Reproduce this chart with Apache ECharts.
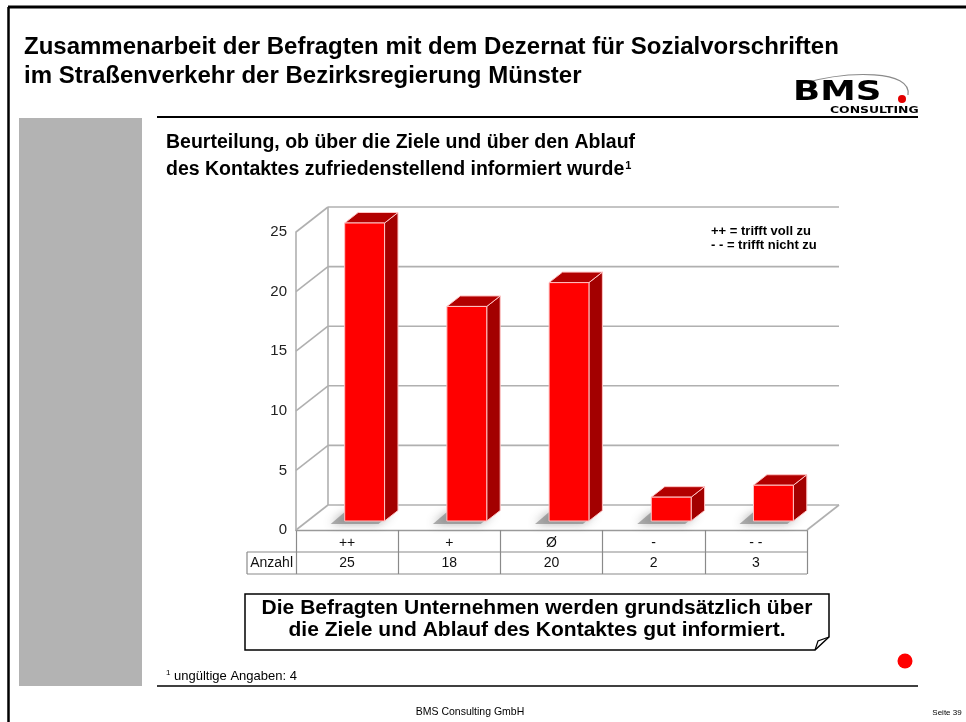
<!DOCTYPE html>
<html>
<head>
<meta charset="utf-8">
<script src="https://cdn.jsdelivr.net/npm/echarts@6/dist/echarts.min.js"></script>
<style>
  html, body { margin: 0; padding: 0; background: #fff; }
  #chart { width: 966px; height: 722px; }
</style>
</head>
<body>
<div id="chart"></div>
<script>
// Survey answers: scale labels and number of answers per scale step
const categories = ['++', '+', 'Ø', '-', '- -'];
const counts = [25, 18, 20, 2, 3];
const rowLabel = 'Anzahl';
const yMax = 25;
const yStep = 5;

const FONT = "'Liberation Sans', Arial, sans-serif";
// oblique depth of the pseudo-3D box (x, y in pixels)
const DEPTH = [32, -25];
const BAR_FRONT = 0.36;   // depth fraction of the bar front faces
const BAR_BACK = 0.78;    // depth fraction of the bar back faces

const chart = echarts.init(document.getElementById('chart'), null, { renderer: 'canvas' });

function bandInfo(api) {
  const band = api.size([1, 0])[0];
  const first = api.coord([0, 0]);
  const last = api.coord([categories.length - 1, 0]);
  return { band: band, left: first[0] - band / 2, right: last[0] + band / 2 };
}

// back wall, left wall and floor of the box
function renderWalls(params, api) {
  const b = bandInfo(api);
  const children = [];
  const stroke = { stroke: '#b0b0b0', lineWidth: 1.6 };
  const y0 = api.coord([0, 0])[1];
  const yTop = api.coord([0, yMax])[1];
  for (let t = 0; t <= yMax; t += yStep) {
    const y = api.coord([0, t])[1];
    children.push({ type: 'line', shape: { x1: b.left, y1: y, x2: b.left + DEPTH[0], y2: y + DEPTH[1] }, style: stroke });
    children.push({ type: 'line', shape: { x1: b.left + DEPTH[0], y1: y + DEPTH[1], x2: b.right + DEPTH[0], y2: y + DEPTH[1] }, style: stroke });
  }
  children.push({ type: 'line', shape: { x1: b.left + DEPTH[0], y1: y0 + DEPTH[1], x2: b.left + DEPTH[0], y2: yTop + DEPTH[1] }, style: stroke });
  children.push({ type: 'line', shape: { x1: b.right, y1: y0, x2: b.right + DEPTH[0], y2: y0 + DEPTH[1] }, style: stroke });
  return { type: 'group', children: children };
}

// one pseudo-3D bar per category
function renderBar(params, api) {
  const i = api.value(0);
  const v = api.value(1);
  const band = api.size([1, 0])[0];
  const w = band * 0.39;
  const c = api.coord([i, 0]);
  const t = api.coord([i, v]);
  const fx = DEPTH[0] * BAR_FRONT, fy = DEPTH[1] * BAR_FRONT;
  const bx = DEPTH[0] * BAR_BACK, by = DEPTH[1] * BAR_BACK;
  const xl = c[0] - w / 2 + fx + 6;
  const xr = xl + w;
  const yb = c[1] + fy;
  const yt = t[1] + fy;
  const dx = bx - fx, dy = by - fy;
  const edge = { stroke: '#ffc4c4', lineWidth: 1 };
  return {
    type: 'group',
    children: [
      { type: 'polygon', shape: { points: [[xl - 14, yb + 3], [xr - 6, yb + 3], [xr + dx - 6, yb + dy + 2], [xl + dx - 14, yb + dy + 2]] },
        style: { fill: 'rgba(115,115,115,0.55)', shadowBlur: 10, shadowColor: 'rgba(90,90,90,0.85)' } },
      { type: 'polygon', shape: { points: [[xr, yb], [xr + dx, yb + dy], [xr + dx, yt + dy], [xr, yt]] },
        style: Object.assign({ fill: '#a30000' }, edge) },
      { type: 'polygon', shape: { points: [[xl, yt], [xr, yt], [xr + dx, yt + dy], [xl + dx, yt + dy]] },
        style: Object.assign({ fill: '#b20000' }, edge) },
      { type: 'rect', shape: { x: xl, y: yt, width: w, height: yb - yt },
        style: Object.assign({ fill: '#ff0000' }, edge) }
    ]
  };
}

// data table beneath the box: value row and its grid lines
function renderTable(params, api) {
  const b = bandInfo(api);
  const i = api.value(0);
  const c = api.coord([i, 0]);
  const y0 = c[1];
  const children = [
    { type: 'text', style: { text: String(api.value(1)), x: c[0], y: y0 + 33, align: 'center', verticalAlign: 'middle',
      font: '14px ' + FONT, fill: '#111' } }
  ];
  if (i === 0) {
    const lineStyle = { stroke: '#8a8a8a', lineWidth: 1.2 };
    const cellLeft = b.left - 49;
    children.push({ type: 'line', shape: { x1: cellLeft, y1: y0 + 22, x2: b.right, y2: y0 + 22 }, style: lineStyle });
    children.push({ type: 'line', shape: { x1: cellLeft, y1: y0 + 44, x2: b.right, y2: y0 + 44 }, style: lineStyle });
    children.push({ type: 'line', shape: { x1: cellLeft, y1: y0 + 22, x2: cellLeft, y2: y0 + 44 }, style: lineStyle });
    children.push({ type: 'text', style: { text: rowLabel, x: b.left - 3, y: y0 + 33, align: 'right', verticalAlign: 'middle',
      font: '14px ' + FONT, fill: '#111' } });
  }
  return { type: 'group', children: children };
}

const barData = counts.map((v, i) => [i, v]);

const option = {
  animation: false,
  backgroundColor: '#ffffff',
  grid: { left: 296, top: 232, width: 511, height: 298, containLabel: false },
  xAxis: {
    type: 'category',
    data: categories,
    axisLine: { show: true, lineStyle: { color: '#9a9a9a', width: 1.4 } },
    axisTick: { show: true, length: 44, lineStyle: { color: '#8a8a8a', width: 1.2 } },
    axisLabel: { color: '#111', fontSize: 14, fontFamily: FONT, margin: 6 },
    splitLine: { show: false }
  },
  yAxis: {
    type: 'value',
    min: 0, max: yMax, interval: yStep,
    axisLine: { show: true, lineStyle: { color: '#b0b0b0', width: 1.6 } },
    axisTick: { show: false },
    axisLabel: { color: '#222', fontSize: 15, fontFamily: FONT, margin: 9 },
    splitLine: { show: false }
  },
  series: [
    { type: 'custom', name: 'walls', data: [[0, 0]], renderItem: renderWalls, silent: true, z: 1 },
    { type: 'custom', name: 'Anzahl', data: barData, renderItem: renderBar, z: 3,
      encode: { x: 0, y: 1 } },
    { type: 'custom', name: 'table', data: barData, renderItem: renderTable, silent: true, z: 3 }
  ],
  graphic: [
    // page frame
    { type: 'line', shape: { x1: 8, y1: 7, x2: 966, y2: 7 }, style: { stroke: '#000', lineWidth: 3 } },
    { type: 'line', shape: { x1: 8.5, y1: 7, x2: 8.5, y2: 722 }, style: { stroke: '#000', lineWidth: 2.5 } },
    // heading
    { type: 'text', style: { text: 'Zusammenarbeit der Befragten mit dem Dezernat für Sozialvorschriften', x: 24, y: 47,
      verticalAlign: 'middle', font: 'bold 24px ' + FONT, fill: '#000' } },
    { type: 'text', style: { text: 'im Straßenverkehr der Bezirksregierung Münster', x: 24, y: 76,
      verticalAlign: 'middle', font: 'bold 24px ' + FONT, fill: '#000' } },
    // company logo
    { type: 'bezierCurve', shape: { x1: 800, y1: 84, cpx1: 850, cpy1: 70, cpx2: 912, cpy2: 70, x2: 908, y2: 95 },
      style: { stroke: '#8a8a8a', lineWidth: 1.2, fill: null } },
    { type: 'text', x: 793, y: 93, scaleX: 1.32, style: { text: 'BMS', x: 0, y: 0, verticalAlign: 'middle',
      font: 'bold 27px "DejaVu Sans", sans-serif', fill: '#000' } },
    { type: 'circle', shape: { cx: 902, cy: 99, r: 4 }, style: { fill: '#e30000' } },
    { type: 'text', x: 830, y: 111, scaleX: 1.38, style: { text: 'CONSULTING', x: 0, y: 0, verticalAlign: 'middle',
      font: 'bold 9px "DejaVu Sans", sans-serif', fill: '#000' } },
    // rules and side panel
    { type: 'line', shape: { x1: 157, y1: 117, x2: 918, y2: 117 }, style: { stroke: '#000', lineWidth: 2 } },
    { type: 'rect', shape: { x: 19, y: 118, width: 123, height: 568 }, style: { fill: '#b3b3b3' } },
    { type: 'line', shape: { x1: 157, y1: 686, x2: 918, y2: 686 }, style: { stroke: '#000', lineWidth: 1.6 } },
    // chart heading
    { type: 'text', style: { text: 'Beurteilung, ob über die Ziele und über den Ablauf', x: 166, y: 143,
      verticalAlign: 'middle', font: 'bold 19.5px ' + FONT, fill: '#000' } },
    { type: 'text', style: { text: 'des Kontaktes zufriedenstellend informiert wurde{sup|1}', x: 166, y: 170,
      verticalAlign: 'middle', font: 'bold 19.5px ' + FONT, fill: '#000',
      rich: { sup: { font: 'bold 11px ' + FONT, fill: '#000', verticalAlign: 'top', padding: [0, 0, 9, 1] } } } },
    // scale legend
    { type: 'text', style: { text: '++ = trifft voll zu', x: 711, y: 231, verticalAlign: 'middle',
      font: 'bold 13px ' + FONT, fill: '#000' } },
    { type: 'text', style: { text: '- - = trifft nicht zu', x: 711, y: 245, verticalAlign: 'middle',
      font: 'bold 13px ' + FONT, fill: '#000' } },
    // conclusion box with folded corner
    { type: 'polygon', shape: { points: [[245, 594], [829, 594], [829, 637], [815, 650], [245, 650]] },
      style: { fill: '#fff', stroke: '#000', lineWidth: 1.5 } },
    { type: 'polyline', shape: { points: [[815, 650], [818, 641], [829, 637]] },
      style: { fill: null, stroke: '#000', lineWidth: 1.2 } },
    { type: 'text', style: { text: 'Die Befragten Unternehmen werden grundsätzlich über\ndie Ziele und Ablauf des Kontaktes gut informiert.',
      x: 537, y: 619, align: 'center', verticalAlign: 'middle', lineHeight: 22,
      font: 'bold 21px ' + FONT, fill: '#000' } },
    // footnote and footer
    { type: 'text', style: { text: '{sup|1} ungültige Angaben: 4', x: 166, y: 676, verticalAlign: 'middle',
      font: '13px ' + FONT, fill: '#000',
      rich: { sup: { font: '8px ' + FONT, fill: '#000', verticalAlign: 'top', padding: [0, 0, 6, 0] } } } },
    { type: 'circle', shape: { cx: 905, cy: 661, r: 7.5 }, style: { fill: '#ff0000' } },
    { type: 'text', style: { text: 'BMS Consulting GmbH', x: 470, y: 712, align: 'center', verticalAlign: 'middle',
      font: '10.5px ' + FONT, fill: '#000' } },
    { type: 'text', style: { text: 'Seite 39', x: 947, y: 713, align: 'center', verticalAlign: 'middle',
      font: '8px ' + FONT, fill: '#000' } }
  ]
};

chart.setOption(option);
</script>
</body>
</html>
